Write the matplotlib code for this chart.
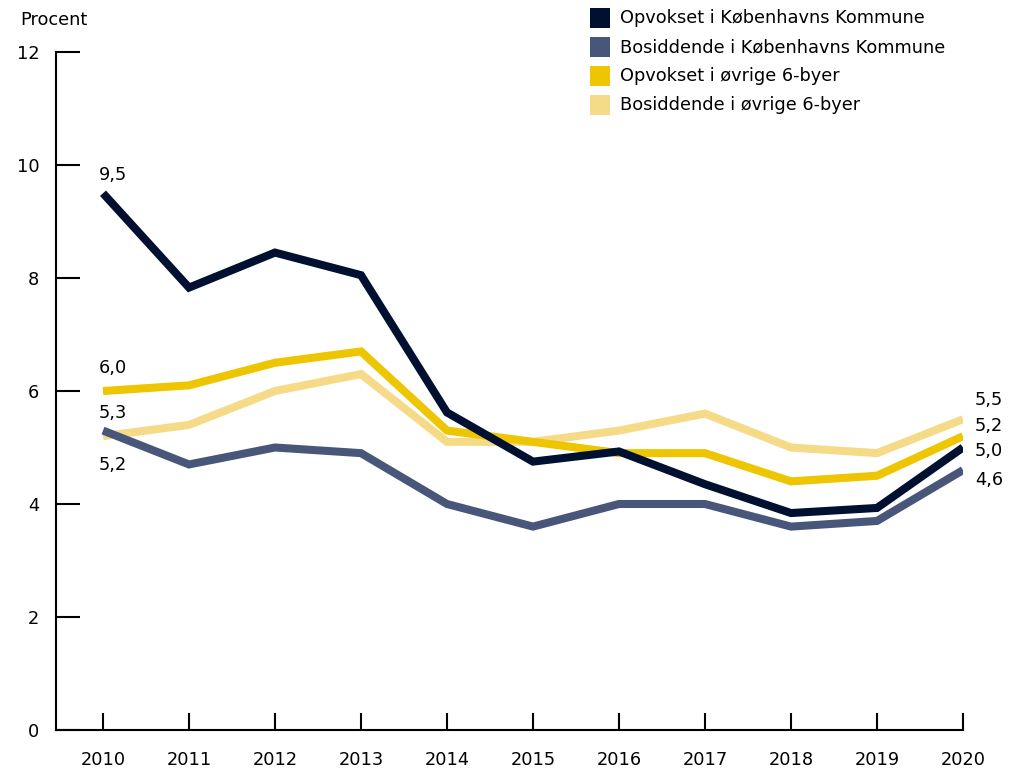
import matplotlib.pyplot as plt
from matplotlib.patches import Rectangle

plt.rcParams['font.family'] = ['DejaVu Sans']

# data
years = [2010, 2011, 2012, 2013, 2014, 2015, 2016, 2017, 2018, 2019, 2020]
opv_kk = [9.5, 7.83, 8.45, 8.05, 5.62, 4.75, 4.93, 4.35, 3.84, 3.93, 5.0]
bos_kk = [5.3, 4.7, 5.0, 4.9, 4.0, 3.6, 4.0, 4.0, 3.6, 3.7, 4.6]
opv_6 = [6.0, 6.1, 6.5, 6.7, 5.3, 5.1, 4.9, 4.9, 4.4, 4.5, 5.2]
bos_6 = [5.2, 5.4, 6.0, 6.3, 5.1, 5.1, 5.3, 5.6, 5.0, 4.9, 5.5]

labels = ['Opvokset i Københavns Kommune', 'Bosiddende i Københavns Kommune',
          'Opvokset i øvrige 6-byer', 'Bosiddende i øvrige 6-byer']
colors = ['#001030', '#485779', '#EDC500', '#F5DB87']
yticks = [0, 2, 4, 6, 8, 10, 12]

FS = 12.8

fig = plt.figure(figsize=(10.14, 7.7), dpi=100)
ax = fig.add_axes([56 / 1014, 40 / 770, (963 - 56) / 1014, (730 - 52) / 770])

series = [opv_kk, bos_kk, opv_6, bos_6]
# tegnerækkefølge: lys gul, gul, grå-blå, navy
for i in [3, 2, 1, 0]:
    ax.plot(years, series[i], color=colors[i], lw=5.8,
            solid_joinstyle='miter', solid_capstyle='butt')

ax.set_xlim(2010 - 47 / 86, 2020)
ax.set_ylim(0, 12)
ax.set_xticks(years)
ax.set_yticks(yticks)
ax.set_yticklabels([str(v) for v in yticks])

for s in ['top', 'right']:
    ax.spines[s].set_visible(False)
for s in ['left', 'bottom']:
    ax.spines[s].set_linewidth(1.5)

ax.tick_params(axis='y', direction='in', length=17, width=1.5, pad=12, labelsize=FS)
ax.tick_params(axis='x', direction='in', length=12, width=1.5, pad=15, labelsize=FS)

fig.text(20 / 1014, 1 - 20 / 770, 'Procent', fontsize=FS, va='center', ha='left')

# værdietiketter
def lab(x, y, txt, dx, dy, ha):
    ax.annotate(txt, (x, y), xytext=(dx, dy), textcoords='offset pixels',
                ha=ha, va='center', fontsize=FS)

lab(years[0], opv_kk[0], '9,5', 10, 18, 'center')
lab(years[0], opv_6[0], '6,0', 10, 23, 'center')
lab(years[0], bos_kk[0], '5,3', 10, 18, 'center')
lab(years[0], bos_6[0], '5,2', 10, -29, 'center')
lab(years[-1], bos_6[-1], '5,5', 12, 19, 'left')
lab(years[-1], opv_6[-1], '5,2', 12, 10, 'left')
lab(years[-1], opv_kk[-1], '5,0', 12, -4, 'left')
lab(years[-1], bos_kk[-1], '4,6', 12, -10, 'left')

# forklaring
for i, (lbl, c) in enumerate(zip(labels, colors)):
    yc = 18 + 29 * i
    fig.add_artist(Rectangle((590 / 1014, 1 - (yc + 10) / 770), 20 / 1014, 20 / 770,
                             transform=fig.transFigure, color=c, lw=0))
    fig.text(620 / 1014, 1 - yc / 770, lbl, fontsize=FS, va='center', ha='left')

fig.savefig('out.png', dpi=100)
